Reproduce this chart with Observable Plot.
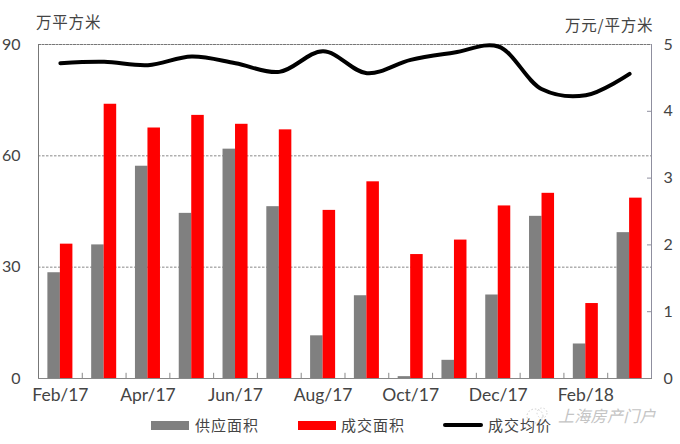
<!DOCTYPE html>
<html><head><meta charset="utf-8">
<script src="https://cdn.jsdelivr.net/npm/d3@7"></script>
<script src="https://cdn.jsdelivr.net/npm/@observablehq/plot@0.6"></script>
<style>
html,body{margin:0;padding:0;background:#fff;}
#wrap{position:relative;width:680px;height:444px;overflow:hidden;font-family:"Noto Sans CJK SC",sans-serif;color:#444;}
#head{height:36px;position:relative;font-size:15.5px;letter-spacing:.8px;}
#head span{position:absolute;top:9px;line-height:24px;}
#legend{position:absolute;top:413px;left:0;width:680px;height:24px;font-size:15px;letter-spacing:1px;}
.item{position:absolute;top:0;line-height:24px;}
.sw{position:absolute;top:8px;height:9px;}
#mark{position:absolute;left:558px;top:403px;font-size:16px;color:#c4c4c4;font-style:italic;letter-spacing:.3px;line-height:24px;}
#icon{position:absolute;left:525px;top:405px;}
svg{display:block;}
</style></head><body>
<div id="wrap">
<div id="head"><span style="left:36px">万平方米</span><span style="left:565px;top:12px">万元/平方米</span></div>
<div id="chart"></div>
<div id="legend">
<div class="sw" style="left:151px;width:38px;background:#808080"></div><div class="item" style="left:195px">供应面积</div>
<div class="sw" style="left:298px;width:38px;background:#f00"></div><div class="item" style="left:341px">成交面积</div>
<div class="sw" style="left:443px;width:40px;top:10px;height:4px;background:#000;border-radius:2px"></div><div class="item" style="left:488px">成交均价</div>
</div>
<svg id="icon" width="24" height="20"><ellipse cx="10" cy="11" rx="8" ry="7" fill="none" stroke="#ccc" stroke-dasharray="1.5,2"/><ellipse cx="17" cy="8" rx="5" ry="5" fill="none" stroke="#d5d5d5" stroke-dasharray="1.5,2"/></svg>
<div id="mark">上海房产门户</div>
</div>
<script>
const months = ["Feb/17","Mar/17","Apr/17","May/17","Jun/17","Jul/17","Aug/17","Sep/17","Oct/17","Nov/17","Dec/17","Jan/18","Feb/18","Mar/18"];
const supply = [28.5,36,57.2,44.5,61.8,46.3,11.5,22.3,0.5,4.9,22.5,43.7,9.3,39.3];
const deals  = [36.2,73.9,67.5,70.9,68.5,67,45.3,53,33.4,37.3,46.5,49.9,20.2,48.6];
const price  = [4.72,4.74,4.69,4.82,4.72,4.59,4.9,4.57,4.77,4.88,4.97,4.33,4.24,4.56];
const xLabels = ["Feb/17","Apr/17","Jun/17","Aug/17","Oct/17","Dec/17","Feb/18"];
const leftTicks = [0,30,60,90];
const rightTicks = [0,1,2,3,4,5];
const rightMarks = [1,2,3,4];
const ratio = 90/5;
const font = "Lato, sans-serif";
const axisColor = "#444";

const chart = Plot.plot({
  width:680, height:370,
  marginLeft:38, marginRight:29, marginTop:8, marginBottom:28,
  style:{background:"#fff", fontFamily:font, fontSize:"16px", overflow:"visible"},
  x:{domain:months, type:"band", round:false, paddingInner:0.714, paddingOuter:0.357, label:null},
  y:{domain:[0,90], label:null},
  marks:[
    Plot.ruleY([30,60],{stroke:"#888",strokeDasharray:"2.5,1.5",strokeWidth:1}),
    Plot.frame({anchor:"top",stroke:"#777",strokeDasharray:"2,1.5"}),
    Plot.frame({anchor:"left",stroke:"#777",strokeDasharray:"2,1"}),
    Plot.frame({anchor:"right",stroke:"#8f8f9f"}),
    Plot.barY(months,{x:d=>d,y:(d,i)=>supply[i],fill:"#808080",dx:-6.25}),
    Plot.barY(months,{x:d=>d,y:(d,i)=>deals[i],fill:"#f00",dx:6.25}),
    Plot.frame({anchor:"bottom",stroke:"#888"}),
    Plot.ruleX(months.slice(1),{x:d=>d,y1:0,y2:1.4,dx:-21.9,stroke:"#888"}),
    Plot.line(months,{x:d=>d,y:(d,i)=>price[i]*ratio,stroke:"#000",strokeWidth:4,curve:"catmull-rom",strokeLinecap:"round"}),
    Plot.axisX(xLabels,{anchor:"bottom",tickSize:0,tickPadding:10,label:null,fill:axisColor,fontSize:"17.5px"}),
    Plot.axisY(leftTicks,{anchor:"left",tickSize:0,tickPadding:18,label:null,fill:axisColor}),
    Plot.axisY(rightTicks.map(d=>d*ratio),{anchor:"right",tickSize:0,tickPadding:12,label:null,fill:axisColor,tickFormat:d=>d/ratio}),
    Plot.axisY(rightMarks.map(d=>d*ratio),{anchor:"right",tickSize:-5,text:null,label:null,stroke:"#8f8f9f"})
  ]
});
document.getElementById("chart").appendChild(chart);
</script>
</body></html>
